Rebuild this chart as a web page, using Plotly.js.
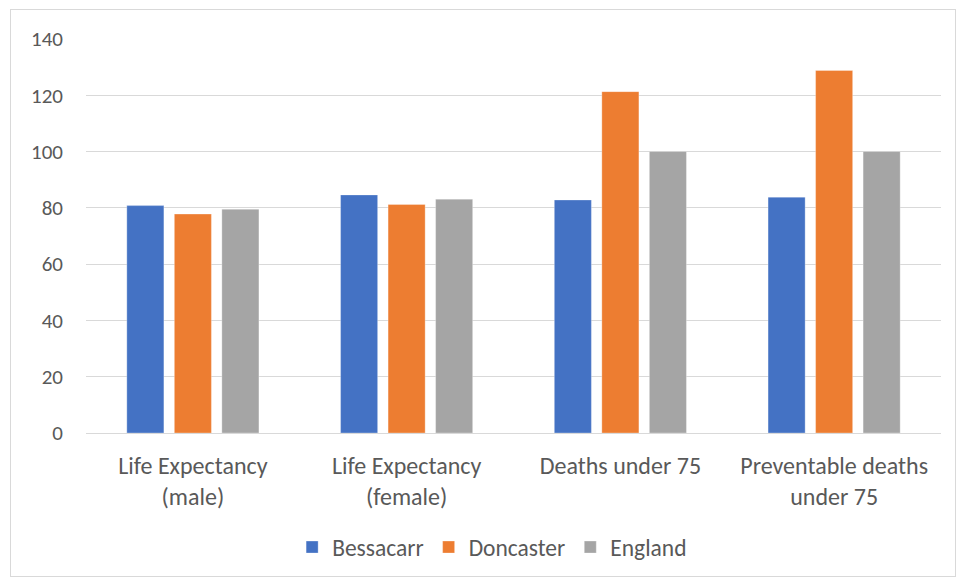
<!DOCTYPE html>
<html>
<head>
<meta charset="utf-8">
<script src="https://cdn.plot.ly/plotly-3.0.1.min.js"></script>
<style>
  html, body { margin: 0; padding: 0; background: #fff; }
  #chart { width: 958px; height: 581px; }
  #frame { position: absolute; left: 10px; top: 9px; width: 946px; height: 568px; border: 1px solid #d9d9d9; pointer-events: none; box-sizing: border-box; }
</style>
</head>
<body>
<div id="chart"></div>
<div id="frame"></div>
<script>
const categories = ["Life Expectancy<br>(male)", "Life Expectancy<br>(female)", "Deaths under 75", "Preventable deaths<br>under 75"];
const seriesNames = ["Bessacarr", "Doncaster", "England"];
const bessacarr = [80.8, 84.6, 82.8, 83.8];
const doncaster = [77.8, 81.2, 121.3, 128.8];
const england = [79.5, 83.1, 100, 100];
const colors = ["#4472C4", "#ED7D31", "#A5A5A5"];
const yTicks = [0, 20, 40, 60, 80, 100, 120, 140];

const font = "Calibri, Carlito, Lato, 'Liberation Sans', sans-serif";
const values = [bessacarr, doncaster, england];
const traces = seriesNames.map((name, i) => ({
  type: "bar",
  name: name,
  x: categories,
  y: values[i],
  marker: { color: colors[i], line: { color: "rgba(255,255,255,0.6)", width: 0.5 } },
  hoverinfo: "y+name"
}));

const layout = {
  width: 958,
  height: 581,
  margin: { l: 86, r: 17, t: 39, b: 148 },
  paper_bgcolor: "#fff",
  plot_bgcolor: "#fff",
  barmode: "group",
  bargap: 0.333,
  bargroupgap: 0.22,
  font: { family: font, size: 22, color: "#595959" },
  xaxis: {
    showgrid: false,
    showline: true,
    linecolor: "#d9d9d9",
    linewidth: 1,
    ticks: "",
    ticklabelstandoff: 11,
    tickfont: { family: font, size: 24, color: "#595959" }
  },
  yaxis: {
    range: [0, 140],
    tickvals: yTicks,
    ticktext: yTicks.map(String),
    showgrid: true,
    gridcolor: "#d9d9d9",
    gridwidth: 1,
    zeroline: false,
    showline: false,
    ticks: "",
    ticklabelstandoff: 22,
    tickfont: { family: font, size: 21, color: "#595959" }
  },
  legend: {
    orientation: "h",
    x: 0.475,
    xanchor: "center",
    y: -0.29,
    yanchor: "middle",
    font: { family: font, size: 23.5, color: "#595959" },
    itemwidth: 30,
    traceorder: "normal"
  },
  showlegend: true
};

Plotly.newPlot("chart", traces, layout, { displayModeBar: false, staticPlot: true });
</script>
</body>
</html>
